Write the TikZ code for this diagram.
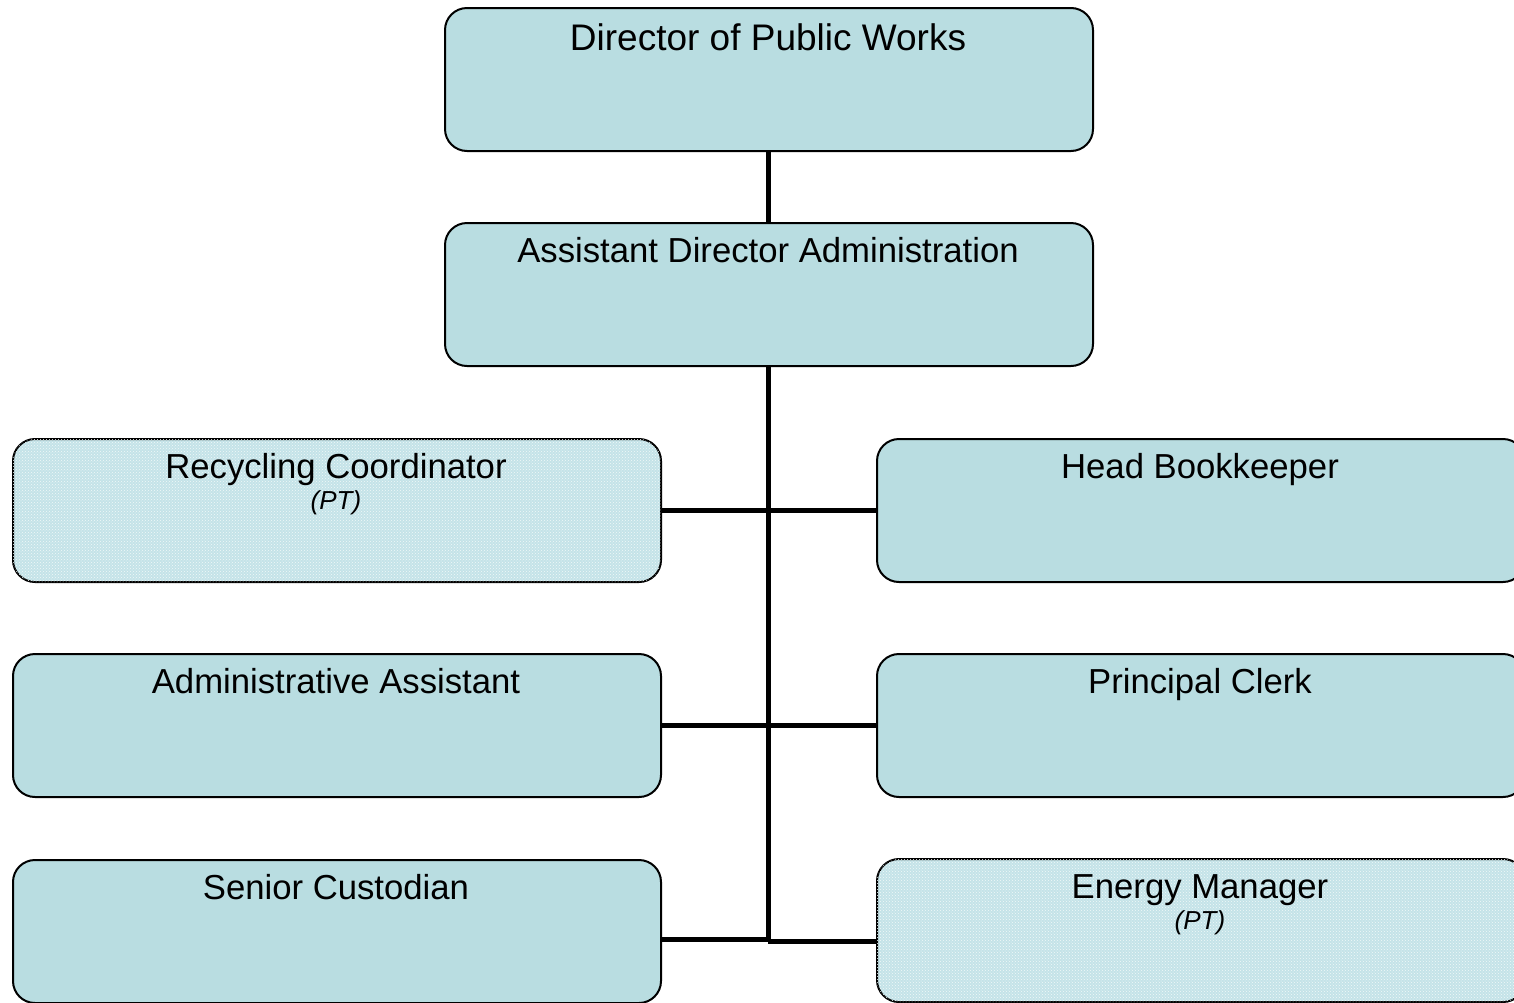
\documentclass[tikz,border=0pt]{standalone}
\usepackage{fontspec}
\setmainfont{Liberation Sans}
\usetikzlibrary{patterns,calc}
\definecolor{boxfill}{RGB}{185,221,225}
\definecolor{boxfillpt}{RGB}{196,227,232}
\tikzset{
  orgbox/.style={draw=black, line width=2pt, rounded corners=22pt, fill=boxfill,
    minimum width=648pt, minimum height=143pt, inner sep=0pt, anchor=north west},
  ptbox/.style={orgbox, fill=boxfillpt, postaction={pattern=crosshatch dots, pattern color=white!80!boxfill}},
  bigtitle/.style={anchor=base, font=\fontsize{37}{44}\selectfont, inner sep=0pt},
  title/.style={anchor=base, font=\fontsize{34.7}{41}\selectfont, inner sep=0pt},
  sub/.style={anchor=base, font=\fontsize{26}{31}\selectfont\itshape, inner sep=0pt},
  link/.style={line width=5pt, black}
}
\begin{document}
\begin{tikzpicture}[x=1pt,y=-1pt]
\useasboundingbox (0,0) rectangle (1514,1002);
\fill[white] (0,0) rectangle (1514,1002);
% boxes
\node[orgbox] (dir) at (444,7) {};
\node[orgbox] (asst) at (444,222) {};
\node[ptbox] (rc) at (12,438) {};
\node[orgbox] (hb) at (876,438) {};
\node[orgbox] (aa) at (12,653) {};
\node[orgbox] (pc) at (876,653) {};
\node[orgbox] (sc) at (12,859) {};
\node[ptbox] (em) at (876,858) {};
% texts
\node[bigtitle] (tdir) at (768,50) {Director of Public Works};
\node[title] (tasst) at (768,262) {Assistant Director Administration};
\node[title] (trc) at (336,478) {Recycling Coordinator};
\node[sub] (trcpt) at (336,509) {(PT)};
\node[title] (thb) at (1200,478) {Head Bookkeeper};
\node[title] (taa) at (336,693) {Administrative Assistant};
\node[title] (tpc) at (1200,693) {Principal Clerk};
\node[title] (tsc) at (336,899) {Senior Custodian};
\node[title] (tem) at (1200,898) {Energy Manager};
\node[sub] (tempt) at (1200,929) {(PT)};
% connectors
\coordinate (j3l) at (768,939);
\coordinate (j3r) at (768,941);
\draw[link] (dir.south -| 768,0) -- (asst.north -| 768,0);
\draw[link] (asst.south -| 768,0) -- (j3r);
\draw[link] (rc.east) -- (hb.west |- rc.east);
\draw[link] (aa.east) -- (pc.west |- aa.east);
\draw[link] (sc.east |- j3l) -- (j3l);
\draw[link] (j3r) -- (em.west |- j3r);
\end{tikzpicture}
\end{document}
